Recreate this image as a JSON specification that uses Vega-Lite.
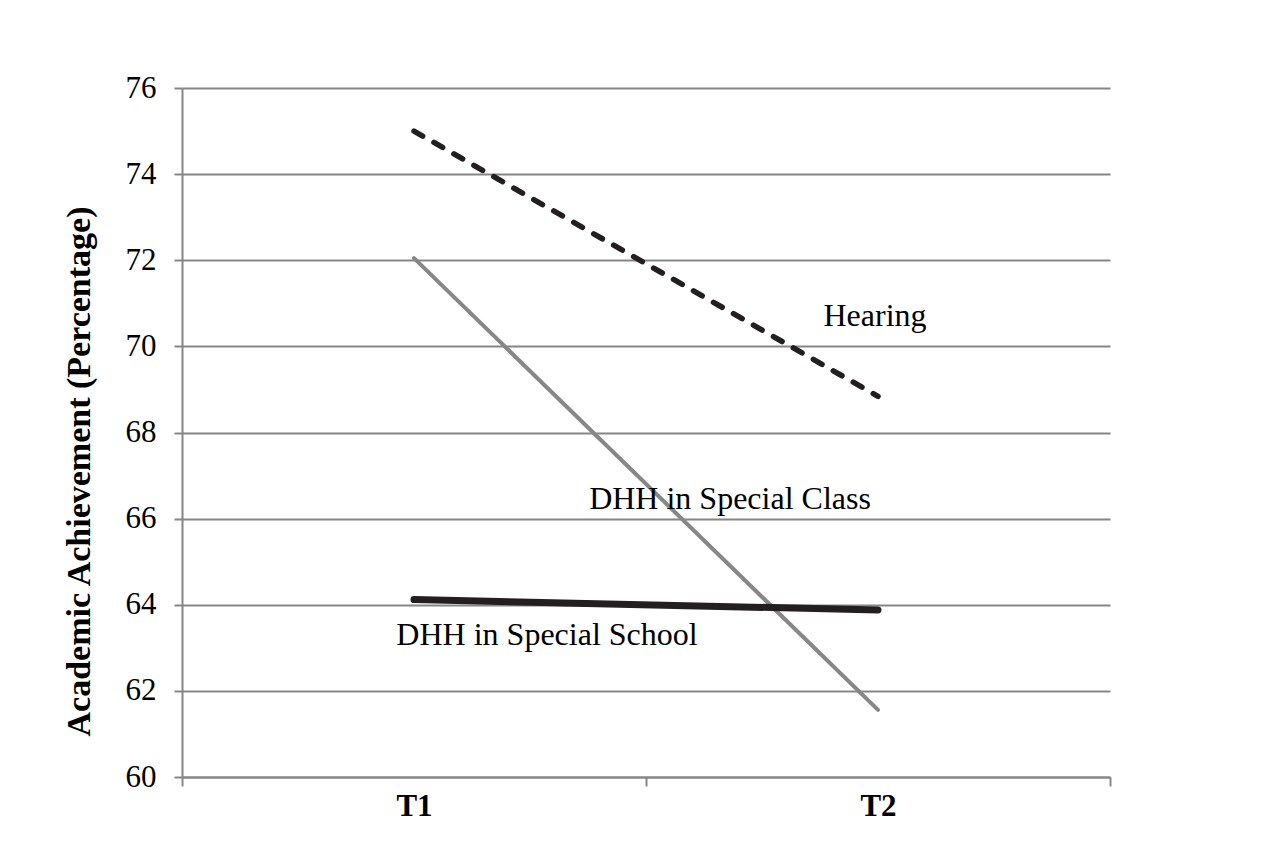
{
  "$schema": "https://vega.github.io/schema/vega-lite/v6.json",
  "autosize": "none",
  "width": 928,
  "height": 689,
  "padding": {"left": 182, "top": 88, "right": 177, "bottom": 66},
  "background": "white",
  "config": {
    "font": "Liberation Serif",
    "view": {"stroke": null},
    "axis": {"labelFont": "Liberation Serif", "titleFont": "Liberation Serif", "labelColor": "black", "titleColor": "black"}
  },
  "datasets": {
    "lines": [
      {"group": "Hearing", "time": "T1", "value": 75.0},
      {"group": "Hearing", "time": "T2", "value": 68.84},
      {"group": "DHH in Special Class", "time": "T1", "value": 72.05},
      {"group": "DHH in Special Class", "time": "T2", "value": 61.56},
      {"group": "DHH in Special School", "time": "T1", "value": 64.12},
      {"group": "DHH in Special School", "time": "T2", "value": 63.88}
    ],
    "labels": [
      {"group": "Hearing", "time": "T2", "value": 70.7},
      {"group": "DHH in Special Class", "time": "T2", "value": 66.45},
      {"group": "DHH in Special School", "time": "T1", "value": 63.3}
    ]
  },
  "encoding": {
    "x": {
      "field": "time", "type": "nominal",
      "scale": {"type": "band", "domain": ["T1", "T2"], "paddingInner": 0, "paddingOuter": 0},
      "axis": {"title": null, "labelAngle": 0, "labelFontSize": 31, "labelFontWeight": "bold", "labelPadding": 5, "tickBand": "extent", "tickSize": 9, "tickColor": "#868686", "domainColor": "#868686", "domainWidth": 2, "tickWidth": 2, "grid": false}
    },
    "y": {
      "field": "value", "type": "quantitative",
      "scale": {"domain": [60, 76], "nice": false, "zero": false},
      "axis": {"title": "Academic Achievement (Percentage)", "titleFontSize": 34, "titleFontWeight": "bold", "titlePadding": 29, "titleY": 383, "values": [60, 62, 64, 66, 68, 70, 72, 74, 76], "labelFontSize": 31, "labelPadding": 18, "tickSize": 8, "tickColor": "#868686", "tickWidth": 2, "domainColor": "#868686", "domainWidth": 2, "grid": true, "gridColor": "#868686", "gridWidth": 2}
    }
  },
  "layer": [
    {
      "data": {"name": "lines"},
      "transform": [{"filter": "datum.group == 'DHH in Special Class'"}],
      "mark": {"type": "line", "color": "#878787", "strokeWidth": 4, "strokeCap": "round"},
      "encoding": {"detail": {"field": "group"}}
    },
    {
      "data": {"name": "lines"},
      "transform": [{"filter": "datum.group == 'DHH in Special School'"}],
      "mark": {"type": "line", "color": "#231f20", "strokeWidth": 7, "strokeCap": "round"},
      "encoding": {"detail": {"field": "group"}}
    },
    {
      "data": {"name": "lines"},
      "transform": [{"filter": "datum.group == 'Hearing'"}],
      "mark": {"type": "line", "color": "#231f20", "strokeWidth": 5.5, "strokeCap": "round", "strokeDash": [10, 13]},
      "encoding": {"detail": {"field": "group"}}
    },
    {
      "data": {"name": "labels"},
      "transform": [{"filter": "datum.group == 'Hearing'"}],
      "mark": {"type": "text", "fontSize": 32, "font": "Liberation Serif", "color": "black", "align": "center", "baseline": "middle", "dx": -3},
      "encoding": {"text": {"field": "group"}}
    },
    {
      "data": {"name": "labels"},
      "transform": [{"filter": "datum.group == 'DHH in Special Class'"}],
      "mark": {"type": "text", "fontSize": 32, "font": "Liberation Serif", "color": "black", "align": "center", "baseline": "middle", "dx": -148},
      "encoding": {"text": {"field": "group"}}
    },
    {
      "data": {"name": "labels"},
      "transform": [{"filter": "datum.group == 'DHH in Special School'"}],
      "mark": {"type": "text", "fontSize": 32, "font": "Liberation Serif", "color": "black", "align": "center", "baseline": "middle", "dx": 133},
      "encoding": {"text": {"field": "group"}}
    }
  ]
}
